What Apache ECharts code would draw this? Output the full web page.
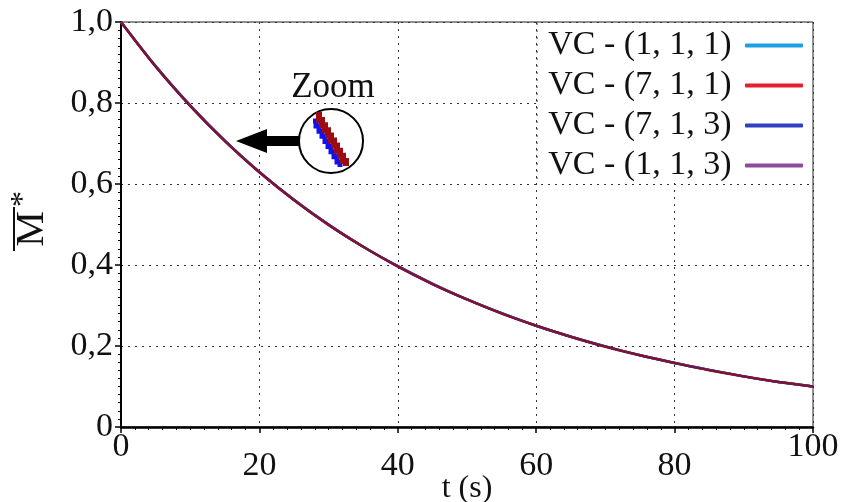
<!DOCTYPE html>
<html>
<head>
<meta charset="utf-8">
<script src="https://cdn.jsdelivr.net/npm/echarts@6/dist/echarts.min.js"></script>
<style>
  html, body { margin: 0; padding: 0; background: #fff; }
  #chart { width: 845px; height: 502px; }
</style>
</head>
<body>
<div id="chart"></div>
<script>
// Normalised mean value M* over time for four VC configurations
const times = [0, 5, 10, 15, 20, 25, 30, 35, 40, 45, 50, 55, 60, 65, 70, 75, 80, 85, 90, 95, 100];
const vc111 = [1.000, 0.891, 0.794, 0.707, 0.630, 0.561, 0.500, 0.445, 0.397, 0.354, 0.315, 0.281, 0.250, 0.223, 0.199, 0.177, 0.158, 0.141, 0.125, 0.111, 0.100];
const vc711 = [1.000, 0.890, 0.793, 0.706, 0.629, 0.560, 0.499, 0.445, 0.396, 0.353, 0.315, 0.280, 0.250, 0.223, 0.198, 0.177, 0.158, 0.140, 0.125, 0.111, 0.100];
const vc713 = [1.000, 0.891, 0.793, 0.707, 0.629, 0.561, 0.499, 0.445, 0.397, 0.353, 0.315, 0.281, 0.250, 0.223, 0.199, 0.177, 0.158, 0.141, 0.125, 0.111, 0.100];
const vc113 = [1.000, 0.891, 0.794, 0.707, 0.630, 0.561, 0.500, 0.445, 0.397, 0.354, 0.315, 0.281, 0.250, 0.223, 0.199, 0.177, 0.158, 0.141, 0.125, 0.111, 0.100];

const seriesNames = ['VC - (1, 1, 1)', 'VC - (7, 1, 1)', 'VC - (7, 1, 3)', 'VC - (1, 1, 3)'];
const seriesValues = [vc111, vc711, vc713, vc113];

const xTicks = [0, 20, 40, 60, 80, 100];
const xTickLabels = ['0', '20', '40', '60', '80', '100'];
const yTicks = [0, 0.2, 0.4, 0.6, 0.8, 1.0];
const yTickLabels = ['0', '0,2', '0,4', '0,6', '0,8', '1,0'];

const FONT = '"Liberation Serif", "Times New Roman", serif';
const legendColors = ['#1ba0e2', '#e5202a', '#3140bf', '#8e4a9c'];
const lineColors = ['#1ba0e2', '#7e1430', '#3140bf', '#8e4a9c'];
const seriesZ = [3, 7, 6, 5]; // dark red curve drawn on top

function tickLabel(ticks, labels, v) {
  for (let i = 0; i < ticks.length; i++) {
    if (Math.abs(ticks[i] - v) < 1e-9) return labels[i];
  }
  return '';
}

// stepped band used inside the magnifier circle
function stairs(x0, y0, x1, y1, n) {
  const pts = [];
  const dx = (x1 - x0) / n, dy = (y1 - y0) / n;
  for (let i = 0; i < n; i++) {
    const x = x0 + dx * i, y = y0 + dy * i;
    pts.push([x, y]);
    pts.push([x + dx, y]);
  }
  pts.push([x1, y1]);
  return pts;
}

const chart = echarts.init(document.getElementById('chart'), null, { renderer: 'canvas' });

const option = {
  animation: false,
  backgroundColor: '#fff',
  grid: {
    left: 121, right: 32, top: 22, bottom: 75,
    containLabel: false, outerBoundsMode: 'none',
    show: true, borderColor: '#222', borderWidth: 1, backgroundColor: 'transparent'
  },
  xAxis: {
    type: 'value', min: 0, max: 100, interval: 20,
    name: 't (s)', nameLocation: 'middle', nameGap: 46, nameMoveOverlap: false,
    nameTextStyle: { fontFamily: FONT, fontSize: 32, color: '#111' },
    axisLine: { show: true, onZero: false, lineStyle: { color: '#000', width: 2.5 } },
    axisTick: { show: true, length: 6, lineStyle: { color: '#000', width: 1.5 } },
    minorTick: { show: true, splitNumber: 10, length: 3, lineStyle: { color: '#000', width: 1 } },
    splitLine: { show: true, lineStyle: { color: '#333', width: 1, type: [2, 5] } },
    axisLabel: {
      margin: 3, fontFamily: FONT, fontSize: 34, color: '#111',
      formatter: function (v) {
        const s = tickLabel(xTicks, xTickLabels, v);
        return (v === 0 || v === 100) ? s : '{lo|' + s + '}';
      },
      rich: { lo: { fontFamily: FONT, fontSize: 34, color: '#111', padding: [19, 0, 0, 0] } }
    }
  },
  yAxis: {
    type: 'value', min: 0, max: 1, interval: 0.2,
    axisLine: { show: true, onZero: false, lineStyle: { color: '#000', width: 2 } },
    axisTick: { show: true, length: 6, lineStyle: { color: '#000', width: 1.5 } },
    minorTick: { show: true, splitNumber: 10, length: 3, lineStyle: { color: '#000', width: 1 } },
    splitLine: { show: true, lineStyle: { color: '#333', width: 1, type: [2, 5] } },
    axisLabel: {
      margin: 8, fontFamily: FONT, fontSize: 34, color: '#111',
      formatter: function (v) { return tickLabel(yTicks, yTickLabels, v); }
    }
  },
  legend: {
    orient: 'vertical', right: 42, top: 28, align: 'right',
    padding: 0, itemWidth: 58, itemHeight: 4, itemGap: 5, icon: 'roundRect',
    selectedMode: false,
    formatter: function (name) { return name + ' '; },
    textStyle: { fontFamily: FONT, fontSize: 34, color: '#111', lineHeight: 35 },
    data: seriesNames.map(function (n, i) {
      return { name: n, itemStyle: { color: legendColors[i] } };
    })
  },
  graphic: {
    elements: [
      // white panel behind the legend with a dotted left edge
      { type: 'rect', z: 3, shape: { x: 538, y: 23, width: 274, height: 159 },
        style: { fill: '#fff' } },
      { type: 'line', z: 3, shape: { x1: 537, y1: 23, x2: 537, y2: 183 },
        style: { stroke: '#333', lineWidth: 1, lineDash: [2, 5] } },
      // magnifier callout
      { type: 'text', z: 10, x: 333, y: 88,
        style: { text: 'Zoom', font: '35px ' + FONT, fill: '#111', align: 'center', verticalAlign: 'middle' } },
      { type: 'circle', z: 10, shape: { cx: 331, cy: 141, r: 32 },
        style: { fill: '#fff', stroke: '#000', lineWidth: 2 } },
      { type: 'polyline', z: 11, shape: { points: stairs(313, 121, 340, 167, 9) },
        style: { stroke: '#1010f0', lineWidth: 5, fill: null } },
      { type: 'polyline', z: 12, shape: { points: stairs(316, 115, 346, 166, 10) },
        style: { stroke: '#9a0c12', lineWidth: 6, fill: null } },
      { type: 'polygon', z: 10,
        shape: { points: [[236, 141], [267, 129], [267, 136], [299, 136], [299, 146], [267, 146], [267, 153]] },
        style: { fill: '#000' } },
      // rotated y-axis title: M with overbar and asterisk
      { type: 'group', x: 32, y: 229, rotation: Math.PI / 2, children: [
        { type: 'text', x: 0, y: 0,
          style: { text: 'M', font: '40px ' + FONT, fill: '#111', align: 'center', verticalAlign: 'middle' } },
        { type: 'rect', shape: { x: -22, y: -19, width: 44, height: 2 }, style: { fill: '#111' } },
        { type: 'text', x: 30, y: -8,
          style: { text: '*', font: '32px ' + FONT, fill: '#111', align: 'center', verticalAlign: 'middle' } }
      ] }
    ]
  },
  series: seriesNames.map(function (n, i) {
    return {
      name: n, type: 'line', smooth: 0.3, showSymbol: false, symbol: 'none',
      z: seriesZ[i],
      itemStyle: { color: legendColors[i] },
      lineStyle: { color: lineColors[i], width: 2.5 },
      data: times.map(function (t, k) { return [t, seriesValues[i][k]]; })
    };
  })
};

chart.setOption(option);
</script>
</body>
</html>
